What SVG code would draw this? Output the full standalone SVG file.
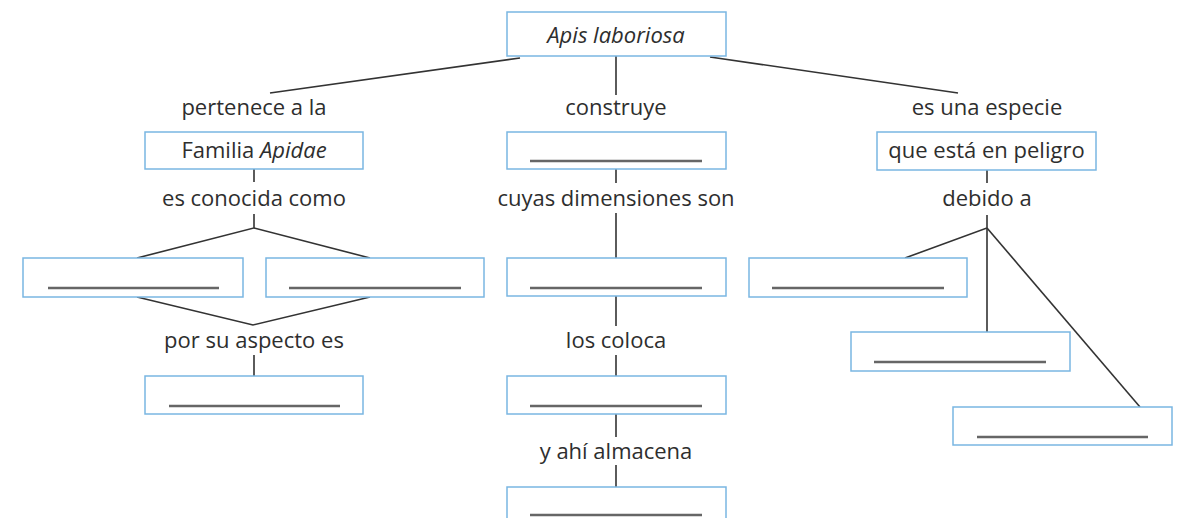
<svg xmlns="http://www.w3.org/2000/svg" width="1178" height="518" viewBox="0 0 1178 518">
<style>
.box{fill:#fff;stroke:#7ab6e2;stroke-width:1.5}
.ul{stroke:#666;stroke-width:2.4}
.c{stroke:#333;stroke-width:1.6;fill:none}
.t{font-family:"Open Sans","Noto Sans",sans-serif;font-size:22px;fill:#2e2e2e;text-anchor:middle}
.i{font-style:italic}
</style>
<rect width="1178" height="518" fill="#fff"/>
<g id="connectors">
<line class="c" x1="520" y1="58" x2="270" y2="93"/>
<line class="c" x1="616" y1="56" x2="616" y2="95"/>
<line class="c" x1="710" y1="57" x2="958" y2="93"/>
<line class="c" x1="254" y1="169" x2="254" y2="182"/>
<polyline class="c" points="254,214 254,228 137,258"/>
<line class="c" x1="254" y1="228" x2="370" y2="258"/>
<polyline class="c" points="137,297 253,325 370,297"/>
<line class="c" x1="254" y1="355" x2="254" y2="376"/>
<line class="c" x1="616" y1="169" x2="616" y2="183"/>
<line class="c" x1="616" y1="213" x2="616" y2="258"/>
<line class="c" x1="616" y1="296" x2="616" y2="326"/>
<line class="c" x1="616" y1="355" x2="616" y2="376"/>
<line class="c" x1="616" y1="414" x2="616" y2="437"/>
<line class="c" x1="616" y1="465" x2="616" y2="487"/>
<line class="c" x1="987" y1="170" x2="987" y2="183"/>
<polyline class="c" points="987,215 987,228 905,258"/>
<line class="c" x1="987" y1="228" x2="987" y2="332"/>
<line class="c" x1="987" y1="228" x2="1140" y2="407"/>
</g>
<g id="n-apis"><rect class="box" x="507" y="12" width="219" height="44"/><text class="t i" x="616" y="43">Apis laboriosa</text></g>
<g id="l-pertenece"><text class="t" x="254" y="115">pertenece a la</text></g>
<g id="l-construye"><text class="t" x="616" y="115">construye</text></g>
<g id="l-especie"><text class="t" x="987" y="115">es una especie</text></g>
<g id="n-familia"><rect class="box" x="145" y="132" width="218" height="37"/><text class="t" x="254" y="158">Familia <tspan class="i">Apidae</tspan></text></g>
<g id="n-construye"><rect class="box" x="507" y="132" width="219" height="37"/><line class="ul" x1="530" y1="161" x2="702" y2="161"/></g>
<g id="n-peligro"><rect class="box" x="877" y="132" width="219" height="38"/><text class="t" x="986.5" y="158">que está en peligro</text></g>
<g id="l-conocida"><text class="t" x="254" y="206">es conocida como</text></g>
<g id="l-dimensiones"><text class="t" x="616" y="206">cuyas dimensiones son</text></g>
<g id="l-debido"><text class="t" x="987" y="206">debido a</text></g>
<g id="n-con1"><rect class="box" x="23" y="258" width="220" height="39"/><line class="ul" x1="48" y1="288" x2="219" y2="288"/></g>
<g id="n-con2"><rect class="box" x="266" y="258" width="218" height="39"/><line class="ul" x1="289" y1="288" x2="461" y2="288"/></g>
<g id="n-dim"><rect class="box" x="507" y="258" width="219" height="38"/><line class="ul" x1="530" y1="288" x2="702" y2="288"/></g>
<g id="n-deb1"><rect class="box" x="749" y="258" width="218" height="39"/><line class="ul" x1="772" y1="288" x2="944" y2="288"/></g>
<g id="l-aspecto"><text class="t" x="254" y="348">por su aspecto es</text></g>
<g id="l-coloca"><text class="t" x="616" y="348">los coloca</text></g>
<g id="n-deb2"><rect class="box" x="851" y="332" width="219" height="39"/><line class="ul" x1="874" y1="362" x2="1046" y2="362"/></g>
<g id="n-aspecto"><rect class="box" x="145" y="376" width="218" height="38"/><line class="ul" x1="169" y1="406" x2="340" y2="406"/></g>
<g id="n-coloca"><rect class="box" x="507" y="376" width="219" height="38"/><line class="ul" x1="530" y1="406" x2="702" y2="406"/></g>
<g id="n-deb3"><rect class="box" x="953" y="407" width="219" height="38"/><line class="ul" x1="977" y1="437" x2="1148" y2="437"/></g>
<g id="l-almacena"><text class="t" x="616" y="459">y ahí almacena</text></g>
<g id="n-almacena"><rect class="box" x="507" y="487" width="219" height="40"/><line class="ul" x1="530" y1="515" x2="702" y2="515"/></g>
</svg>
